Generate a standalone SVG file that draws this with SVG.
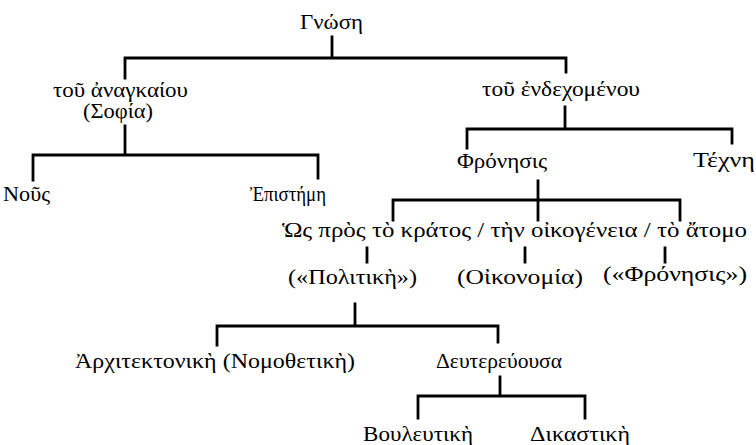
<svg xmlns="http://www.w3.org/2000/svg" width="756" height="445" viewBox="0 0 756 445">
<style>
text{font-family:"Liberation Serif","DejaVu Serif",serif;font-size:20px;fill:#000}
.c path{fill:none;stroke:#000;stroke-width:2.8;stroke-linecap:square;stroke-linejoin:miter}
</style>
<rect width="756" height="445" fill="#fff"/>
<g class="c" id="connectors">
<path d="M332 37V58M125 78V58H566V72"/>
<path d="M125 126V155M33 180V155H318V178"/>
<path d="M565 107V129M467 148V129H732V143"/>
<path d="M538 181V220M393 220V200H680V220"/>
<path d="M367 248V262M525 248V262M665 248V262"/>
<path d="M355 304V326M217 345V326H498V342"/>
<path d="M500 377V396M418 418V396H585V418"/>
</g>
<g id="n-gnosi"><text x="300" y="29" textLength="63" lengthAdjust="spacingAndGlyphs">Γνώση</text></g>
<g id="n-anagkaiou"><text x="53" y="97" textLength="135" lengthAdjust="spacingAndGlyphs">τοῦ ἀναγκαίου</text><text x="83" y="118" textLength="70" lengthAdjust="spacingAndGlyphs">(Σοφία)</text></g>
<g id="n-endechomenou"><text x="482" y="96" textLength="158" lengthAdjust="spacingAndGlyphs">τοῦ ἐνδεχομένου</text></g>
<g id="n-nous"><text x="3" y="201" textLength="47" lengthAdjust="spacingAndGlyphs">Νοῦς</text></g>
<g id="n-episteme"><text x="250" y="201" textLength="76" lengthAdjust="spacingAndGlyphs">Ἐπιστήμη</text></g>
<g id="n-fronisis"><text x="457" y="168" textLength="90" lengthAdjust="spacingAndGlyphs">Φρόνησις</text></g>
<g id="n-techni"><text x="693" y="167" textLength="62" lengthAdjust="spacingAndGlyphs">Τέχνη</text></g>
<g id="n-row"><text x="282" y="237" textLength="465" lengthAdjust="spacingAndGlyphs">Ὡς πρὸς τὸ κράτος / τὴν οἰκογένεια / τὸ ἄτομο</text></g>
<g id="n-politiki"><text x="288" y="284" textLength="129" lengthAdjust="spacingAndGlyphs">(«Πολιτικὴ»)</text></g>
<g id="n-oikonomia"><text x="457" y="284" textLength="126" lengthAdjust="spacingAndGlyphs">(Οἰκονομία)</text></g>
<g id="n-fronisis2"><text x="603" y="281" textLength="144" lengthAdjust="spacingAndGlyphs">(«Φρόνησις»)</text></g>
<g id="n-architektoniki"><text x="75" y="368" textLength="280" lengthAdjust="spacingAndGlyphs">Ἀρχιτεκτονικὴ (Νομοθετικὴ)</text></g>
<g id="n-defterevousa"><text x="436" y="368" textLength="126" lengthAdjust="spacingAndGlyphs">Δευτερεύουσα</text></g>
<g id="n-vouleftiki"><text x="363" y="441" textLength="110" lengthAdjust="spacingAndGlyphs">Βουλευτικὴ</text></g>
<g id="n-dikastiki"><text x="530" y="441" textLength="100" lengthAdjust="spacingAndGlyphs">Δικαστικὴ</text></g>
</svg>
